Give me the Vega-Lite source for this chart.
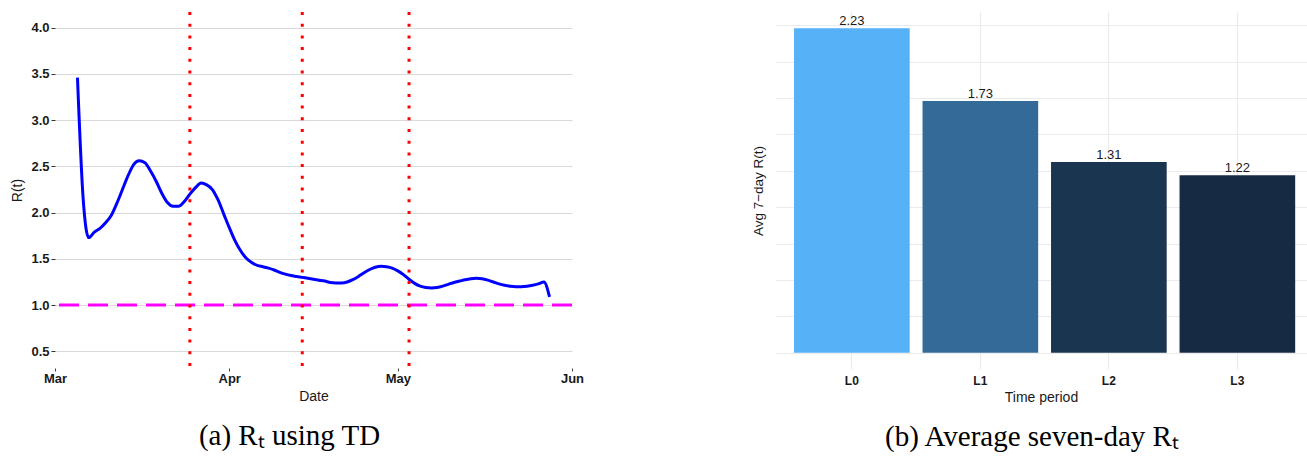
{
  "$schema": "https://vega.github.io/schema/vega-lite/v6.json",
  "background": "white",
  "padding": {"left": 10, "top": 10, "right": 0, "bottom": 0},
  "config": {
    "view": {"stroke": null},
    "font": "Liberation Sans",
    "axis": {"labelColor": "#1a1a1a", "titleColor": "#1a1a1a", "titleFontWeight": "normal", "titleFontSize": 14, "titleFont": "Liberation Sans", "labelFont": "Liberation Sans"},
    "title": {"font": "Liberation Serif", "fontSize": 29, "fontWeight": "normal", "color": "#000000", "orient": "bottom", "anchor": "middle"}
  },
  "datasets": {
    "rt": [
      {"date": "2020/03/05", "R": 3.46}, {"date": "2020/03/06", "R": 2.16}, {"date": "2020/03/07", "R": 1.73},
      {"date": "2020/03/08", "R": 1.79}, {"date": "2020/03/09", "R": 1.83}, {"date": "2020/03/10", "R": 1.89},
      {"date": "2020/03/11", "R": 1.97}, {"date": "2020/03/12", "R": 2.10}, {"date": "2020/03/13", "R": 2.25},
      {"date": "2020/03/14", "R": 2.40}, {"date": "2020/03/15", "R": 2.52}, {"date": "2020/03/16", "R": 2.56},
      {"date": "2020/03/17", "R": 2.54}, {"date": "2020/03/18", "R": 2.45}, {"date": "2020/03/19", "R": 2.34},
      {"date": "2020/03/20", "R": 2.21}, {"date": "2020/03/21", "R": 2.11}, {"date": "2020/03/22", "R": 2.07},
      {"date": "2020/03/23", "R": 2.07}, {"date": "2020/03/24", "R": 2.12}, {"date": "2020/03/25", "R": 2.20},
      {"date": "2020/03/26", "R": 2.27}, {"date": "2020/03/27", "R": 2.32}, {"date": "2020/03/28", "R": 2.30},
      {"date": "2020/03/29", "R": 2.25}, {"date": "2020/03/30", "R": 2.14}, {"date": "2020/03/31", "R": 1.99},
      {"date": "2020/04/01", "R": 1.84}, {"date": "2020/04/02", "R": 1.70}, {"date": "2020/04/03", "R": 1.59},
      {"date": "2020/04/04", "R": 1.51}, {"date": "2020/04/05", "R": 1.46}, {"date": "2020/04/06", "R": 1.43},
      {"date": "2020/04/07", "R": 1.415}, {"date": "2020/04/08", "R": 1.40}, {"date": "2020/04/09", "R": 1.38},
      {"date": "2020/04/10", "R": 1.355}, {"date": "2020/04/11", "R": 1.335}, {"date": "2020/04/12", "R": 1.32},
      {"date": "2020/04/13", "R": 1.31}, {"date": "2020/04/14", "R": 1.30}, {"date": "2020/04/15", "R": 1.29},
      {"date": "2020/04/16", "R": 1.28}, {"date": "2020/04/17", "R": 1.27}, {"date": "2020/04/18", "R": 1.26},
      {"date": "2020/04/19", "R": 1.245}, {"date": "2020/04/20", "R": 1.24}, {"date": "2020/04/21", "R": 1.24},
      {"date": "2020/04/22", "R": 1.25}, {"date": "2020/04/23", "R": 1.275}, {"date": "2020/04/24", "R": 1.31},
      {"date": "2020/04/25", "R": 1.35}, {"date": "2020/04/26", "R": 1.385}, {"date": "2020/04/27", "R": 1.41},
      {"date": "2020/04/28", "R": 1.42}, {"date": "2020/04/29", "R": 1.415}, {"date": "2020/04/30", "R": 1.40},
      {"date": "2020/05/01", "R": 1.37}, {"date": "2020/05/02", "R": 1.33}, {"date": "2020/05/03", "R": 1.28},
      {"date": "2020/05/04", "R": 1.235}, {"date": "2020/05/05", "R": 1.205}, {"date": "2020/05/06", "R": 1.19},
      {"date": "2020/05/07", "R": 1.185}, {"date": "2020/05/08", "R": 1.19}, {"date": "2020/05/09", "R": 1.205},
      {"date": "2020/05/10", "R": 1.225}, {"date": "2020/05/11", "R": 1.245}, {"date": "2020/05/12", "R": 1.26},
      {"date": "2020/05/13", "R": 1.275}, {"date": "2020/05/14", "R": 1.285}, {"date": "2020/05/15", "R": 1.29},
      {"date": "2020/05/16", "R": 1.285}, {"date": "2020/05/17", "R": 1.27}, {"date": "2020/05/18", "R": 1.25},
      {"date": "2020/05/19", "R": 1.23}, {"date": "2020/05/20", "R": 1.215}, {"date": "2020/05/21", "R": 1.205},
      {"date": "2020/05/22", "R": 1.20}, {"date": "2020/05/23", "R": 1.20}, {"date": "2020/05/24", "R": 1.205},
      {"date": "2020/05/25", "R": 1.215}, {"date": "2020/05/26", "R": 1.23}, {"date": "2020/05/27", "R": 1.25},
      {"date": "2020/05/28", "R": 1.09}
    ],
    "threshold": [{"R": 1}],
    "phases": [{"date": "2020/03/25"}, {"date": "2020/04/14"}, {"date": "2020/05/03"}],
    "bars": [
      {"period": "L0", "avg": 2.23, "label": "2.23"},
      {"period": "L1", "avg": 1.73, "label": "1.73"},
      {"period": "L2", "avg": 1.31, "label": "1.31"},
      {"period": "L3", "avg": 1.22, "label": "1.22"}
    ]
  },
  "hconcat": [
    {
      "width": 517,
      "height": 356,
      "title": {"text": "(a) Rₜ using TD", "offset": 19, "dx": -24},
      "layer": [
        {
          "data": {"name": "rt"},
          "mark": {"type": "line", "color": "#0000FF", "strokeWidth": 3, "interpolate": "monotone"},
          "encoding": {
            "x": {
              "field": "date", "type": "temporal",
              "scale": {"domain": [{"year": 2020, "month": 3, "date": 1}, {"year": 2020, "month": 6, "date": 1}], "nice": false},
              "axis": {"title": "Date", "format": "%b", "tickCount": {"interval": "month", "step": 1}, "grid": false, "domain": false, "tickSize": 3, "tickColor": "#444444", "labelFontWeight": "bold", "labelFontSize": 13, "labelPadding": 1, "labelFlush": false, "titlePadding": 4}
            },
            "y": {
              "field": "R", "type": "quantitative",
              "scale": {"domain": [0.32, 4.17], "nice": false, "zero": false},
              "axis": {"title": "R(t)", "values": [0.5, 1, 1.5, 2, 2.5, 3, 3.5, 4], "format": ".1f", "grid": true, "gridColor": "#d9d9d9", "gridWidth": 1.2, "domain": false, "tickSize": 4, "tickColor": "#333333", "labelFontWeight": "bold", "labelFontSize": 13, "labelPadding": 2, "titlePadding": 6}
            }
          }
        },
        {
          "data": {"name": "threshold"},
          "mark": {"type": "rule", "color": "#FF00FF", "strokeWidth": 3, "strokeDash": [20, 9]},
          "encoding": {"y": {"field": "R", "type": "quantitative"}}
        },
        {
          "data": {"name": "phases"},
          "mark": {"type": "rule", "color": "#FF0000", "strokeWidth": 3, "strokeDash": [3, 8.7]},
          "encoding": {"x": {"field": "date", "type": "temporal"}}
        }
      ]
    },
    {
      "width": 532,
      "height": 357,
      "data": {"name": "bars"},
      "title": {"text": "(b) Average seven-day Rₜ", "offset": 19, "dx": -9},
      "encoding": {
        "x": {
          "field": "period", "type": "nominal",
          "scale": {"paddingInner": 0.1, "paddingOuter": 0.12, "align": 0.617},
          "axis": {"title": "Time period", "labelAngle": 0, "grid": true, "gridColor": "#ebebeb", "gridWidth": 1.2, "domain": false, "ticks": false, "tickSize": 0, "labelFontWeight": "bold", "labelFontSize": 12, "labelPadding": 6, "titlePadding": 4}
        },
        "y": {
          "field": "avg", "type": "quantitative",
          "scale": {"domain": [-0.1115, 2.3415], "nice": false, "zero": false},
          "axis": {"title": "Avg 7−day R(t)", "labels": false, "ticks": false, "tickSize": 0, "domain": false, "values": [0, 0.25, 0.5, 0.75, 1, 1.25, 1.5, 1.75, 2, 2.25], "labelOverlap": false, "grid": true, "gridColor": "#ebebeb", "gridWidth": 1.2, "titlePadding": 10, "titleFontSize": 13.5}
        }
      },
      "layer": [
        {
          "mark": {"type": "bar"},
          "encoding": {
            "y2": {"datum": 0},
            "color": {
              "field": "period", "type": "nominal",
              "scale": {"domain": ["L0", "L1", "L2", "L3"], "range": ["#56B1F7", "#346A97", "#1A3550", "#162B43"]},
              "legend": null
            }
          }
        },
        {
          "mark": {"type": "text", "baseline": "alphabetic", "dy": -3, "fontSize": 13, "color": "#1a1a1a"},
          "encoding": {
            "text": {"field": "label"}
          }
        }
      ]
    }
  ],
  "spacing": 203,
  "bounds": "flush"
}
